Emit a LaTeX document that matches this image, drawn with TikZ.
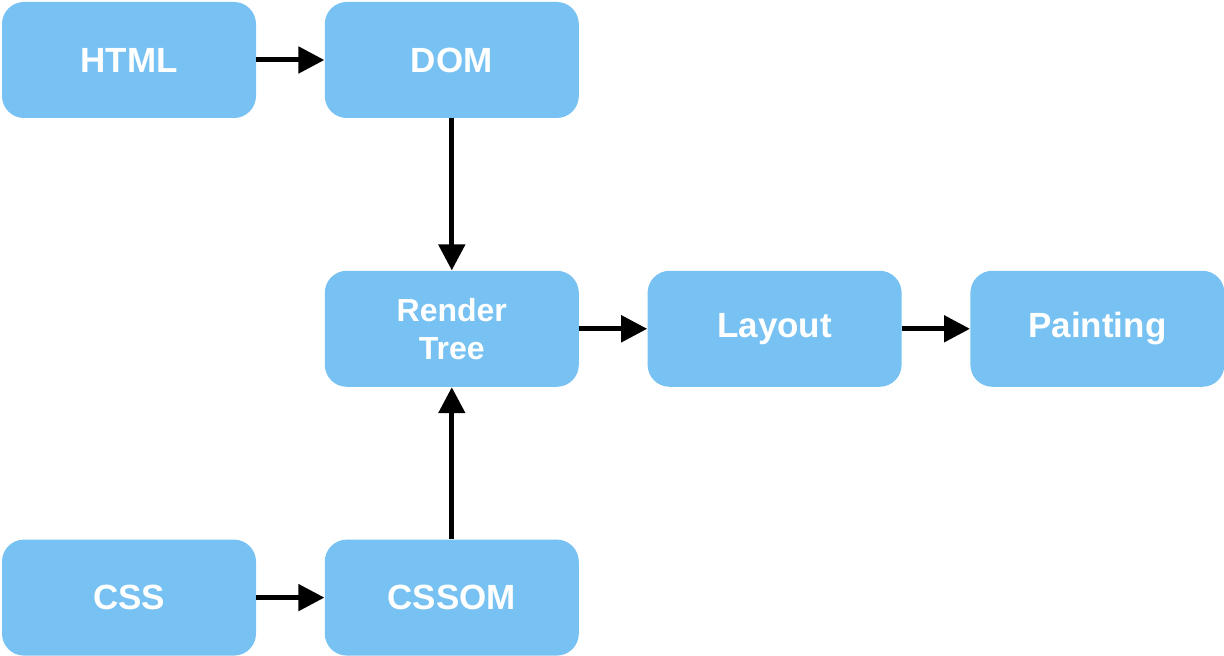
\documentclass[tikz,border=0pt]{standalone}
\usepackage{fontspec}
\setsansfont{Liberation Sans}
\usetikzlibrary{positioning,arrows.meta}
\definecolor{boxblue}{HTML}{77C2F2}
\tikzstyle{stage} = [fill=boxblue,rounded corners=11pt,minimum width=127pt,minimum height=58pt,inner sep=0pt,text=white,font=\sffamily\bfseries\fontsize{17.5}{21}\selectfont,align=center]
\tikzstyle{arrow} = [line width=2.5pt,-{Triangle[length=13pt,width=13pt]}]

\begin{document}
\begin{tikzpicture}
  \useasboundingbox (0,0) rectangle (612pt,-328pt);
  \node[stage] (html) at (64.5pt,-30pt) {HTML};
  \node[stage,right=34pt of html] (dom) {DOM};
  \node[stage,below=76pt of dom,font=\sffamily\bfseries\fontsize{16}{19}\selectfont] (render) {Render\\Tree};
  \node[stage,right=34pt of render] (layout) {Layout};
  \node[stage,right=34pt of layout] (painting) {Painting};
  \node[stage,below=76pt of render] (cssom) {CSSOM};
  \node[stage,left=34pt of cssom] (css) {CSS};
  \draw[arrow] (html) -- (dom);
  \draw[arrow] (dom) -- (render);
  \draw[arrow] (css) -- (cssom);
  \draw[arrow] (cssom) -- (render);
  \draw[arrow] (render) -- (layout);
  \draw[arrow] (layout) -- (painting);
\end{tikzpicture}
\end{document}
